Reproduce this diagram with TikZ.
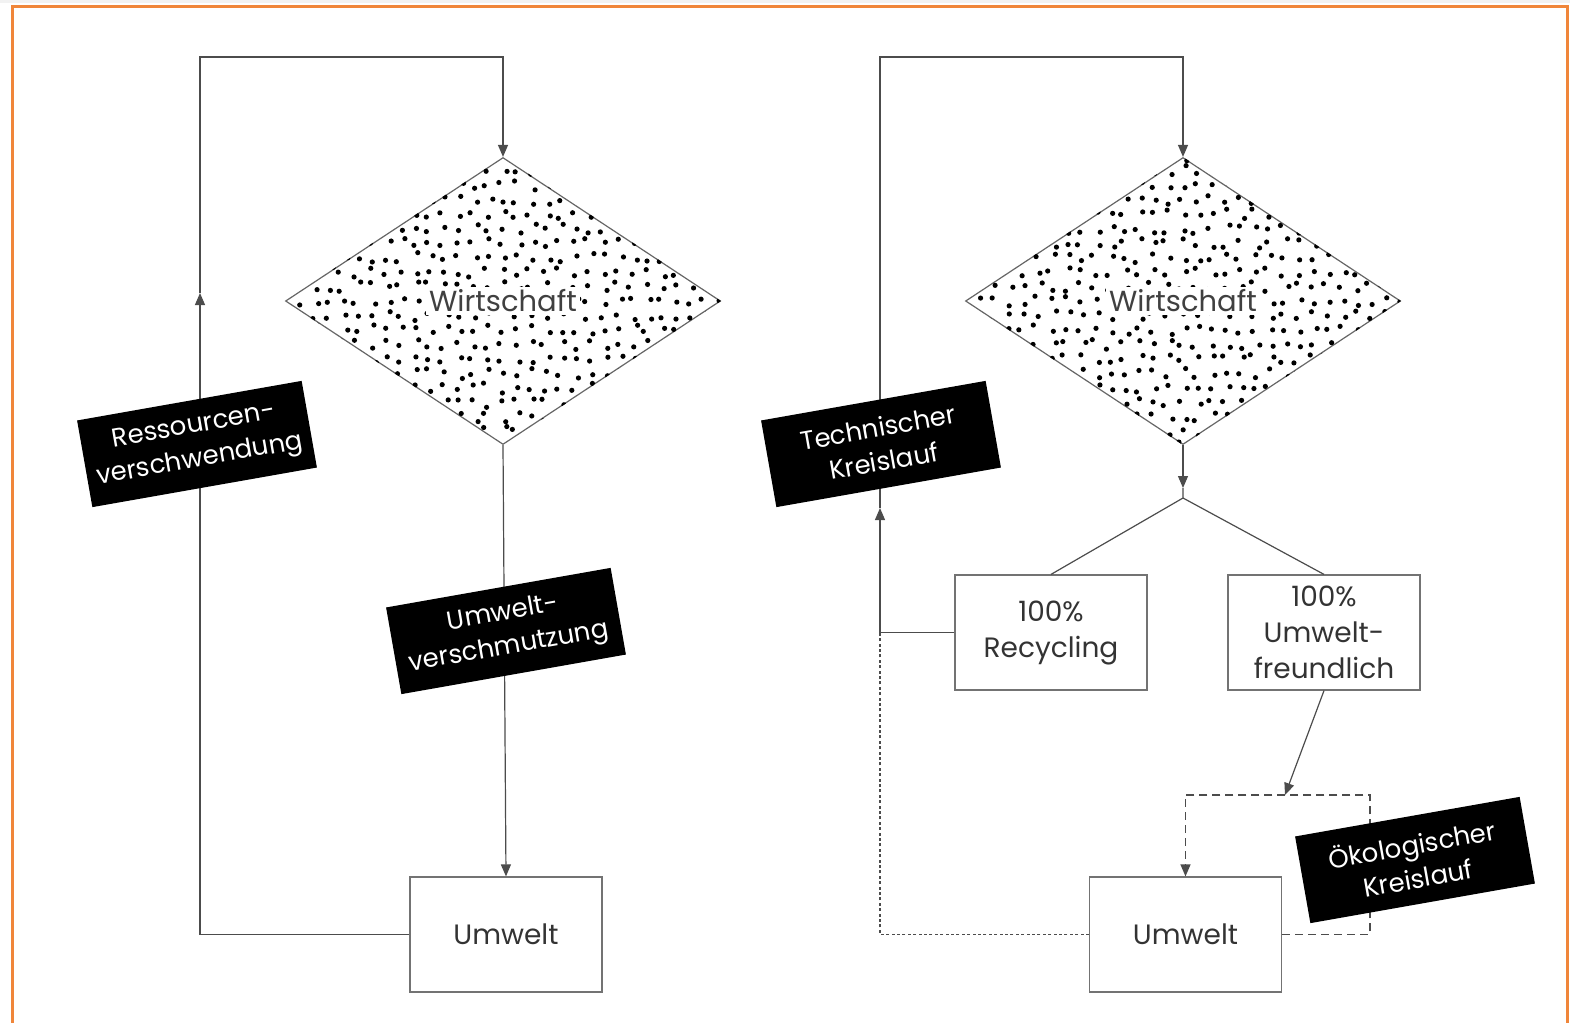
\documentclass[tikz,border=0pt]{standalone}
\usepackage{fontspec}
\setmainfont{Poppins}
\usetikzlibrary{positioning, calc, shapes.geometric, arrows.meta}

\begin{document}
\begin{tikzpicture}[x=0.5pt,y=-0.5pt,
    conn/.style={draw=black!70, line width=0.6pt},
    tip/.style={-{Triangle[length=6pt,width=5pt]}},
    dashline/.style={conn, dash pattern=on 4pt off 2.5pt},
    dotline/.style={conn, dash pattern=on 1.5pt off 1.2pt},
    box/.style={draw=black!55, line width=0.6pt, minimum width=96pt, minimum height=57.5pt,
        align=center, text=black!80, font=\fontsize{14}{18}\selectfont},
    econ/.style={diamond, draw=black!60, line width=0.6pt, minimum width=217.5pt,
        minimum height=143.5pt, inner sep=0pt},
    tag/.style={fill=black, text=white, rotate=10, minimum width=114pt, minimum height=44pt,
        align=center, font=\fontsize{13}{17}\selectfont, inner sep=2pt},
    ]
    \useasboundingbox (0,0) rectangle (1570,1023);
    % frame
    \fill[black!5] (0,0) rectangle (1570,3);
    \draw[draw={rgb,255:red,240;green,134;blue,58}, line width=1.5pt] (12,1023) -- (12,6) -- (1567,6) -- (1567,1023);

    % left: linear economy
    \node[econ] (w1) at (503,301) {};
    \begin{scope}
        \clip (w1.north) -- (w1.east) -- (w1.south) -- (w1.west) -- cycle;
        \pgfmathsetseed{11}
        \foreach \i in {0,...,30}
            \foreach \j in {0,...,20}
                \fill ($(w1.center)+(\i*14.5-218+rand*5,\j*14.5-145+rand*5)$) circle (1.3pt);
    \end{scope}
    \node[fill=white, inner sep=1.5pt, text=black!75, font=\fontsize{14.5}{16}\selectfont] (t1) at (w1.center) {Wirtschaft};
    \node[box] (u1) at (506,934.5) {Umwelt};

    \coordinate (c1) at (200,57);
    \coordinate (m1) at (200,293);
    \draw[conn, tip] (w1.south) -- (u1.north);
    \draw[conn, tip] (u1.west) -| (m1);
    \draw[conn, tip] (m1) -- (c1) -| (w1.north);

    \node[tag] (l1) at (197,444) {Ressourcen-\\verschwendung};
    \node[tag] (l2) at (506,631) {Umwelt-\\verschmutzung};

    % right: circular economy
    \node[econ] (w2) at (1183,301) {};
    \begin{scope}
        \clip (w2.north) -- (w2.east) -- (w2.south) -- (w2.west) -- cycle;
        \pgfmathsetseed{23}
        \foreach \i in {0,...,30}
            \foreach \j in {0,...,20}
                \fill ($(w2.center)+(\i*14.5-218+rand*5,\j*14.5-145+rand*5)$) circle (1.3pt);
    \end{scope}
    \node[fill=white, inner sep=1.5pt, text=black!75, font=\fontsize{14.5}{16}\selectfont] (t2) at (w2.center) {Wirtschaft};

    \node[box] (rec) at (1051,632.5) {100\%\\Recycling};
    \node[box] (eco) at (1324,632.5) {100\%\\Umwelt-\\freundlich};
    \node[box] (u2) at (1185.5,934.5) {Umwelt};

    \coordinate (a2) at (1183,488);
    \coordinate (fk) at (1183,498);
    \draw[conn, tip] (w2.south) -- (a2);
    \draw[conn] (a2) -- (fk) -- (rec.north);
    \draw[conn] (fk) -- (eco.north);

    \coordinate (k2) at (880,632.5);
    \coordinate (m2) at (880,508);
    \coordinate (c2) at (880,57);
    \draw[conn] (rec.west) -- (k2);
    \draw[conn, tip] (k2) -- (m2);
    \draw[conn, tip] (m2) -- (c2) -| (w2.north);
    \draw[dotline] (u2.west) -| (k2);

    \coordinate (d1) at (1285,795);
    \coordinate (d3) at (1370,795);
    \draw[conn, tip] (eco.south) -- (d1);
    \draw[dashline, tip] (u2.east) -| (d3) -| (u2.north);

    \node[tag] (l3) at (881,444) {Technischer\\Kreislauf};
    \node[tag] (l4) at (1415,860) {Ökologischer\\Kreislauf};
\end{tikzpicture}
\end{document}
